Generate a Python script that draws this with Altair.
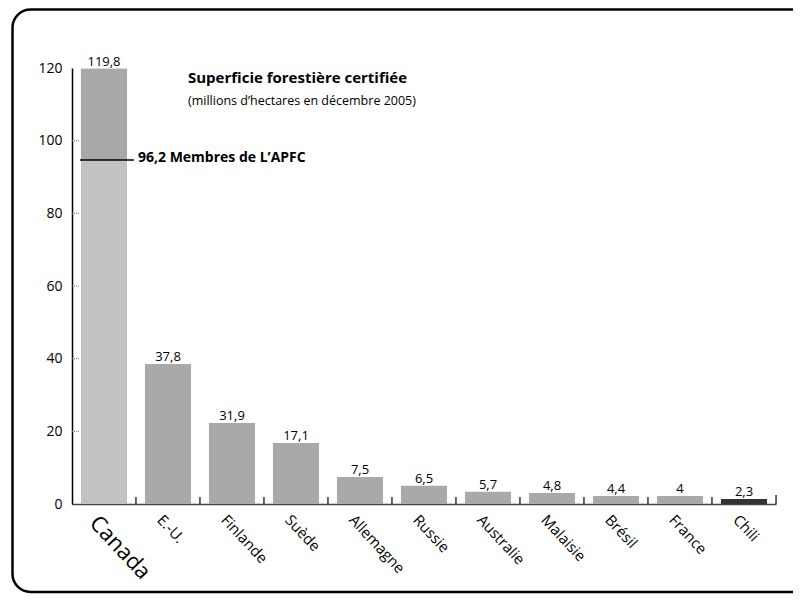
import altair as alt
import pandas as pd

countries = ["Canada", "E.-U.", "Finlande", "Suède", "Allemagne", "Russie",
             "Australie", "Malaisie", "Brésil", "France", "Chili"]
bar_heights = [119.8, 38.5, 22.3, 16.8, 7.4, 5.0, 3.4, 3.0, 2.2, 2.2, 1.4]
value_labels = ["119,8", "37,8", "31,9", "17,1", "7,5", "6,5", "5,7", "4,8",
                "4,4", "4", "2,3"]
bar_colors = ["#c2c2c2"] + ["#a9a9a9"] * 9 + ["#333333"]
y_ticks = [0, 20, 40, 60, 80, 100, 120]
inner_ticks = [20, 40, 60, 80, 100]
apfc_label = "96,2 Membres de L’APFC"
apfc_drawn = 94.7
title_text = "Superficie forestière certifiée"
subtitle_text = "(millions d’hectares en décembre 2005)"

FONT = "Open Sans"

df = pd.DataFrame({"pays": countries, "val": bar_heights,
                   "lab": value_labels, "col": bar_colors})

xscale = alt.Scale(domain=countries, paddingInner=0.28, paddingOuter=0.14)
xaxis = alt.Axis(title=None, labelAngle=47, labelAlign="left",
                 labelBaseline="top", labelPadding=8, labelOffset=-3,
                 labelFontSize={"condition": {"test": "datum.value === 'Canada'", "value": 22},
                                "value": 15},
                 labelFont=FONT, labelColor="black", ticks=False,
                 domainColor="#444444", domainWidth=1.5)


def X(band=None):
    if band is None:
        return alt.X("pays:N", sort=countries, scale=xscale, axis=xaxis)
    return alt.X("pays:N", sort=countries, scale=xscale, axis=xaxis,
                 bandPosition=band)


Y = alt.Y("val:Q", scale=alt.Scale(domain=[0, 120], nice=False),
          axis=alt.Axis(title=None, values=y_ticks, ticks=False, grid=False,
                        labelFontSize=14, labelPadding=10, labelFont=FONT,
                        labelColor="black", domainColor="black",
                        domainWidth=1.5))

one = alt.Data(values=[{}])

frame = alt.Chart(one).mark_rect(filled=False, stroke="black", strokeWidth=2.5,
                                 cornerRadius=18).encode(
    x=alt.value(-59.5), x2=alt.value(745), y=alt.value(-58.5), y2=alt.value(524))

base = alt.Chart(df)
bars = base.mark_bar().encode(x=X(), y=Y, color=alt.Color("col:N", scale=None))
canada_top = base.transform_filter("datum.pays === 'Canada'").mark_bar(
    color="#a8a8a8").encode(x=X(), y=Y, y2=alt.datum(apfc_drawn))
labels = base.mark_text(baseline="alphabetic", dy=-3, fontSize=13,
                        font=FONT, color="black").encode(x=X(), y=Y, text="lab:N")

xticks = base.transform_filter("datum.pays !== 'Canada'").mark_rule(
    color="black", strokeWidth=1.2, xOffset=-9).encode(
    x=X(0), y=alt.value(436), y2=alt.value(429))
xend = base.transform_filter("datum.pays === 'Chili'").mark_rule(
    color="black", strokeWidth=1.2, xOffset=9).encode(
    x=X(1), y=alt.value(436), y2=alt.value(427))

yticks = alt.Chart(pd.DataFrame({"val": inner_ticks})).mark_rule(
    color="#777777", strokeDash=[1, 1]).encode(y=Y, x=alt.value(0), x2=alt.value(8))

apfc_df = pd.DataFrame({"val": [apfc_drawn], "t": [apfc_label]})
apfc_rule = alt.Chart(apfc_df).mark_rule(color="black", strokeWidth=1.5).encode(
    y=Y, x=alt.value(8), x2=alt.value(62))
apfc_text = alt.Chart(apfc_df).mark_text(align="left", baseline="middle",
                                         fontWeight="bold", fontSize=14,
                                         font=FONT, dy=-2).encode(
    y=Y, x=alt.value(66), text="t:N")

title = alt.Chart(one).mark_text(align="left", baseline="alphabetic",
                                 fontWeight="bold", fontSize=15, font=FONT).encode(
    x=alt.value(116), y=alt.value(15), text=alt.value(title_text))
subtitle = alt.Chart(one).mark_text(align="left", baseline="alphabetic",
                                    fontSize=12.5, font=FONT).encode(
    x=alt.value(116), y=alt.value(37), text=alt.value(subtitle_text))

chart = alt.layer(frame, bars, canada_top, labels, xticks, xend, yticks,
                  apfc_rule, apfc_text, title, subtitle).properties(
    width=704, height=436,
    padding={"left": 64, "top": 60, "right": 17, "bottom": 92},
    autosize=alt.AutoSizeParams(type="none"),
    background="white",
).configure_view(stroke=None)

chart.save("out.html", embed_options={"renderer": "svg", "actions": False})
